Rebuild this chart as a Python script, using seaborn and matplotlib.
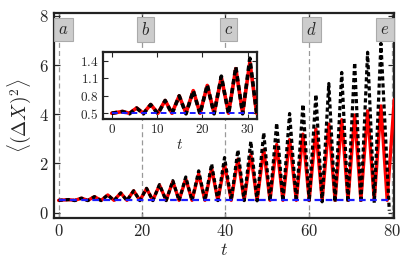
import numpy as np
import matplotlib
matplotlib.use("Agg")
import matplotlib.pyplot as plt
import seaborn as sns

# peak / trough positions and heights
t_peak = [2.4, 5.5, 8.6, 11.8, 14.9, 18.0, 21.1, 24.2, 27.4, 30.5, 33.6, 36.7, 39.8,
          43.0, 46.1, 49.2, 52.3, 55.4, 58.6, 61.7, 64.8, 67.9, 71.0, 74.1, 77.3]
exact_peak = [0.53, 0.59, 0.65, 0.72, 0.80, 0.89, 0.99, 1.14, 1.30, 1.45, 1.70, 1.98, 2.24,
              2.55, 2.90, 3.25, 3.64, 4.03, 4.40, 4.80, 5.25, 5.70, 6.10, 6.52, 6.88]
approx_peak = [0.53, 0.59, 0.65, 0.72, 0.80, 0.89, 0.98, 1.12, 1.27, 1.38, 1.58, 1.80, 1.96,
               2.18, 2.36, 2.56, 2.77, 2.97, 3.19, 3.40, 3.60, 3.78, 3.97, 4.14, 4.34]

t_trough = [0.0, 3.9, 7.0, 10.2, 13.3, 16.4, 19.5, 22.6, 25.8, 28.9, 32.0, 35.1, 38.2,
            41.4, 44.5, 47.6, 50.7, 53.8, 57.0, 60.1, 63.2, 66.3, 69.4, 72.5, 75.7]
exact_trough = [0.50, 0.49, 0.49, 0.49, 0.49, 0.49, 0.49, 0.49, 0.49, 0.49, 0.49, 0.49, 0.49,
                0.49, 0.49, 0.48, 0.48, 0.47, 0.46, 0.45, 0.44, 0.43, 0.42, 0.41, 0.40]
approx_trough = [0.50] * 25

# tail of each curve near t = 80
t_exact_end = [79.3]
exact_end = [0.08]
t_approx_end = [78.8, 80.5]
approx_end = [0.50, 4.60]

t_ref = [0.0, 80.0]
ref_level = [0.5, 0.5]

marks = [0, 20, 40, 60, 80]
mark_names = ["a", "b", "c", "d", "e"]
mark_text_x = [1.2, 20.8, 40.7, 60.7, 78.3]


def merge(ta, va, tb, vb, tc, vc):
    t = np.concatenate([ta, tb, tc])
    v = np.concatenate([va, vb, vc])
    order = np.argsort(t)
    return t[order], v[order]


t_ex, v_ex = merge(t_peak, exact_peak, t_trough, exact_trough, t_exact_end, exact_end)
t_ap, v_ap = merge(t_peak, approx_peak, t_trough, approx_trough, t_approx_end, approx_end)

sns.set_style("ticks")
plt.rcParams["font.family"] = "serif"
plt.rcParams["font.serif"] = ["cmr10", "DejaVu Serif"]
plt.rcParams["mathtext.fontset"] = "cm"
plt.rcParams["axes.formatter.use_mathtext"] = True
plt.rcParams["axes.unicode_minus"] = False

fig = plt.figure(figsize=(4.09, 2.73), dpi=100)
ax = fig.add_axes([0.133, 0.203, 0.831, 0.748])

for x0 in marks:
    ax.axvline(x0, color="#999999", ls=(0, (4, 2.5)), lw=0.9, zorder=1)

sns.lineplot(x=t_ap, y=v_ap, ax=ax, color="red", lw=2.4, sort=False, zorder=3)
sns.lineplot(x=t_ex, y=v_ex, ax=ax, color="black", lw=2.3, ls=(0, (1.3, 0.9)),
             sort=False, zorder=4)
sns.lineplot(x=t_ref, y=ref_level, ax=ax, color="#1a1aff", lw=1.6, ls=(0, (3, 2)),
             sort=False, zorder=5)

for xt, name in zip(mark_text_x, mark_names):
    ax.text(xt, 7.45, f"${name}$", ha="center", va="center", fontsize=12, zorder=6,
            bbox=dict(boxstyle="square,pad=0.25", fc="#cccccc", ec="#aaaaaa", lw=0.8))

ax.set_xlim(-1.0, 80.5)
ax.set_ylim(-0.2, 8.1)
ax.set_xticks([0, 20, 40, 60, 80])
ax.set_yticks([0, 2, 4, 6, 8])
ax.set_xlabel("$t$", fontsize=13, labelpad=2)
ax.set_ylabel(r"$\langle(\Delta X)^2\rangle$", fontsize=14, labelpad=4)
ax.tick_params(direction="in", top=True, right=True, length=4, width=0.9,
               labelsize=12, pad=4)
for s in ax.spines.values():
    s.set_linewidth(1.6)
    s.set_color("#222222")

ins = fig.add_axes([0.251, 0.564, 0.3765, 0.244])
ins.set_facecolor("white")
sns.lineplot(x=t_ap, y=v_ap, ax=ins, color="red", lw=2.6, sort=False, zorder=3)
sns.lineplot(x=t_ex, y=v_ex, ax=ins, color="black", lw=2.6, ls=(0, (1.5, 1.0)),
             sort=False, zorder=4)
sns.lineplot(x=t_ref, y=ref_level, ax=ins, color="#1a1aff", lw=1.4, ls=(0, (3, 2)),
             sort=False, zorder=5)
ins.set_xlim(-2, 32)
ins.set_ylim(0.40, 1.55)
ins.set_xticks([0, 10, 20, 30])
ins.set_yticks([0.5, 0.8, 1.1, 1.4])
ins.set_xlabel("$t$", fontsize=11, labelpad=1)
ins.set_ylabel("")
ins.tick_params(direction="in", top=True, right=True, length=3.5, width=0.8,
                labelsize=9.5, pad=3)
for s in ins.spines.values():
    s.set_linewidth(1.6)
    s.set_color("#222222")

fig.savefig("out.png", dpi=100)
